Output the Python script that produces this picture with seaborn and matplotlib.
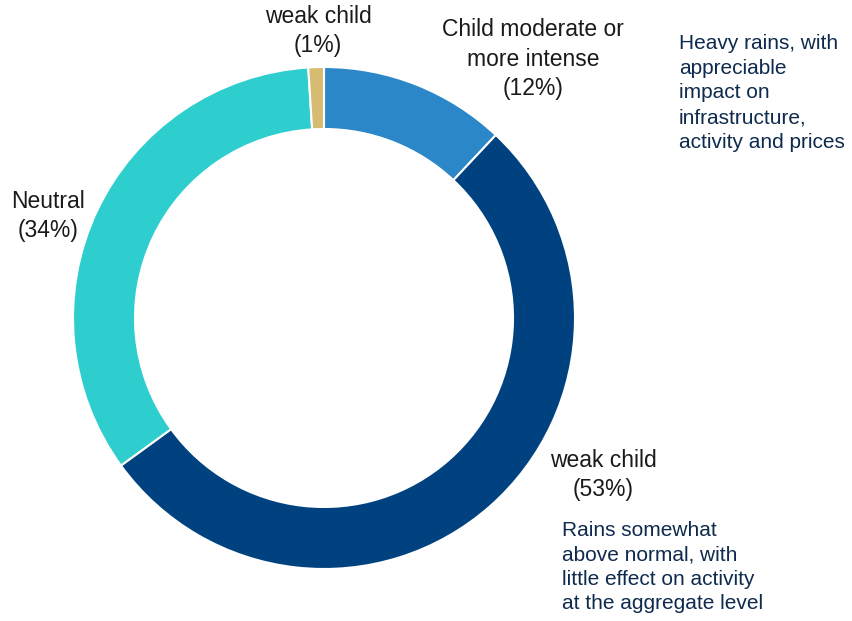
import matplotlib
matplotlib.use("Agg")
import matplotlib.pyplot as plt
import seaborn as sns

# Share of scenarios by intensity
categories = ["Child moderate or\nmore intense", "weak child", "Neutral", "weak child"]
shares = [12, 53, 34, 1]
slice_colors = ["#2B87C8", "#00427F", "#2ECECE", "#D6BC72"]

note_heavy = "Heavy rains, with\nappreciable\nimpact on\ninfrastructure,\nactivity and prices"
note_mild = "Rains somewhat\nabove normal, with\nlittle effect on activity\nat the aggregate level"

sns.set_theme(style="white")
plt.rcParams["font.family"] = ["Liberation Sans", "DejaVu Sans"]

W, H = 852, 621
fig = plt.figure(figsize=(W / 100, H / 100), dpi=100)
ax = fig.add_axes([0, 0, 1, 1])

palette = sns.color_palette(slice_colors)
cx, cy, r_out = 324, H - 318, 251
ax.pie(shares, colors=palette, startangle=90, counterclock=False,
       center=(cx, cy), radius=r_out,
       wedgeprops=dict(width=62, edgecolor="white", linewidth=1.5))
ax.set_xlim(0, W)
ax.set_ylim(0, H)
ax.set_aspect("equal")
ax.axis("off")

label_kw = dict(ha="center", va="center", fontsize=16.5, color="#1A1A1A",
                linespacing=1.38)
pos = [(533, 59), (603, 475), (48, 216), (318, 31)]
for name, val, (x, y) in zip(categories, shares, pos):
    ax.text(x, H - y, f"{name}\n({val}%)", **label_kw)

note_kw = dict(ha="left", va="center", fontsize=15, color="#0E2A4D",
               linespacing=1.37)
ax.text(679, H - 93, note_heavy, **note_kw)
ax.text(562, H - 567, note_mild, **note_kw)

fig.savefig("out.png", dpi=100)
